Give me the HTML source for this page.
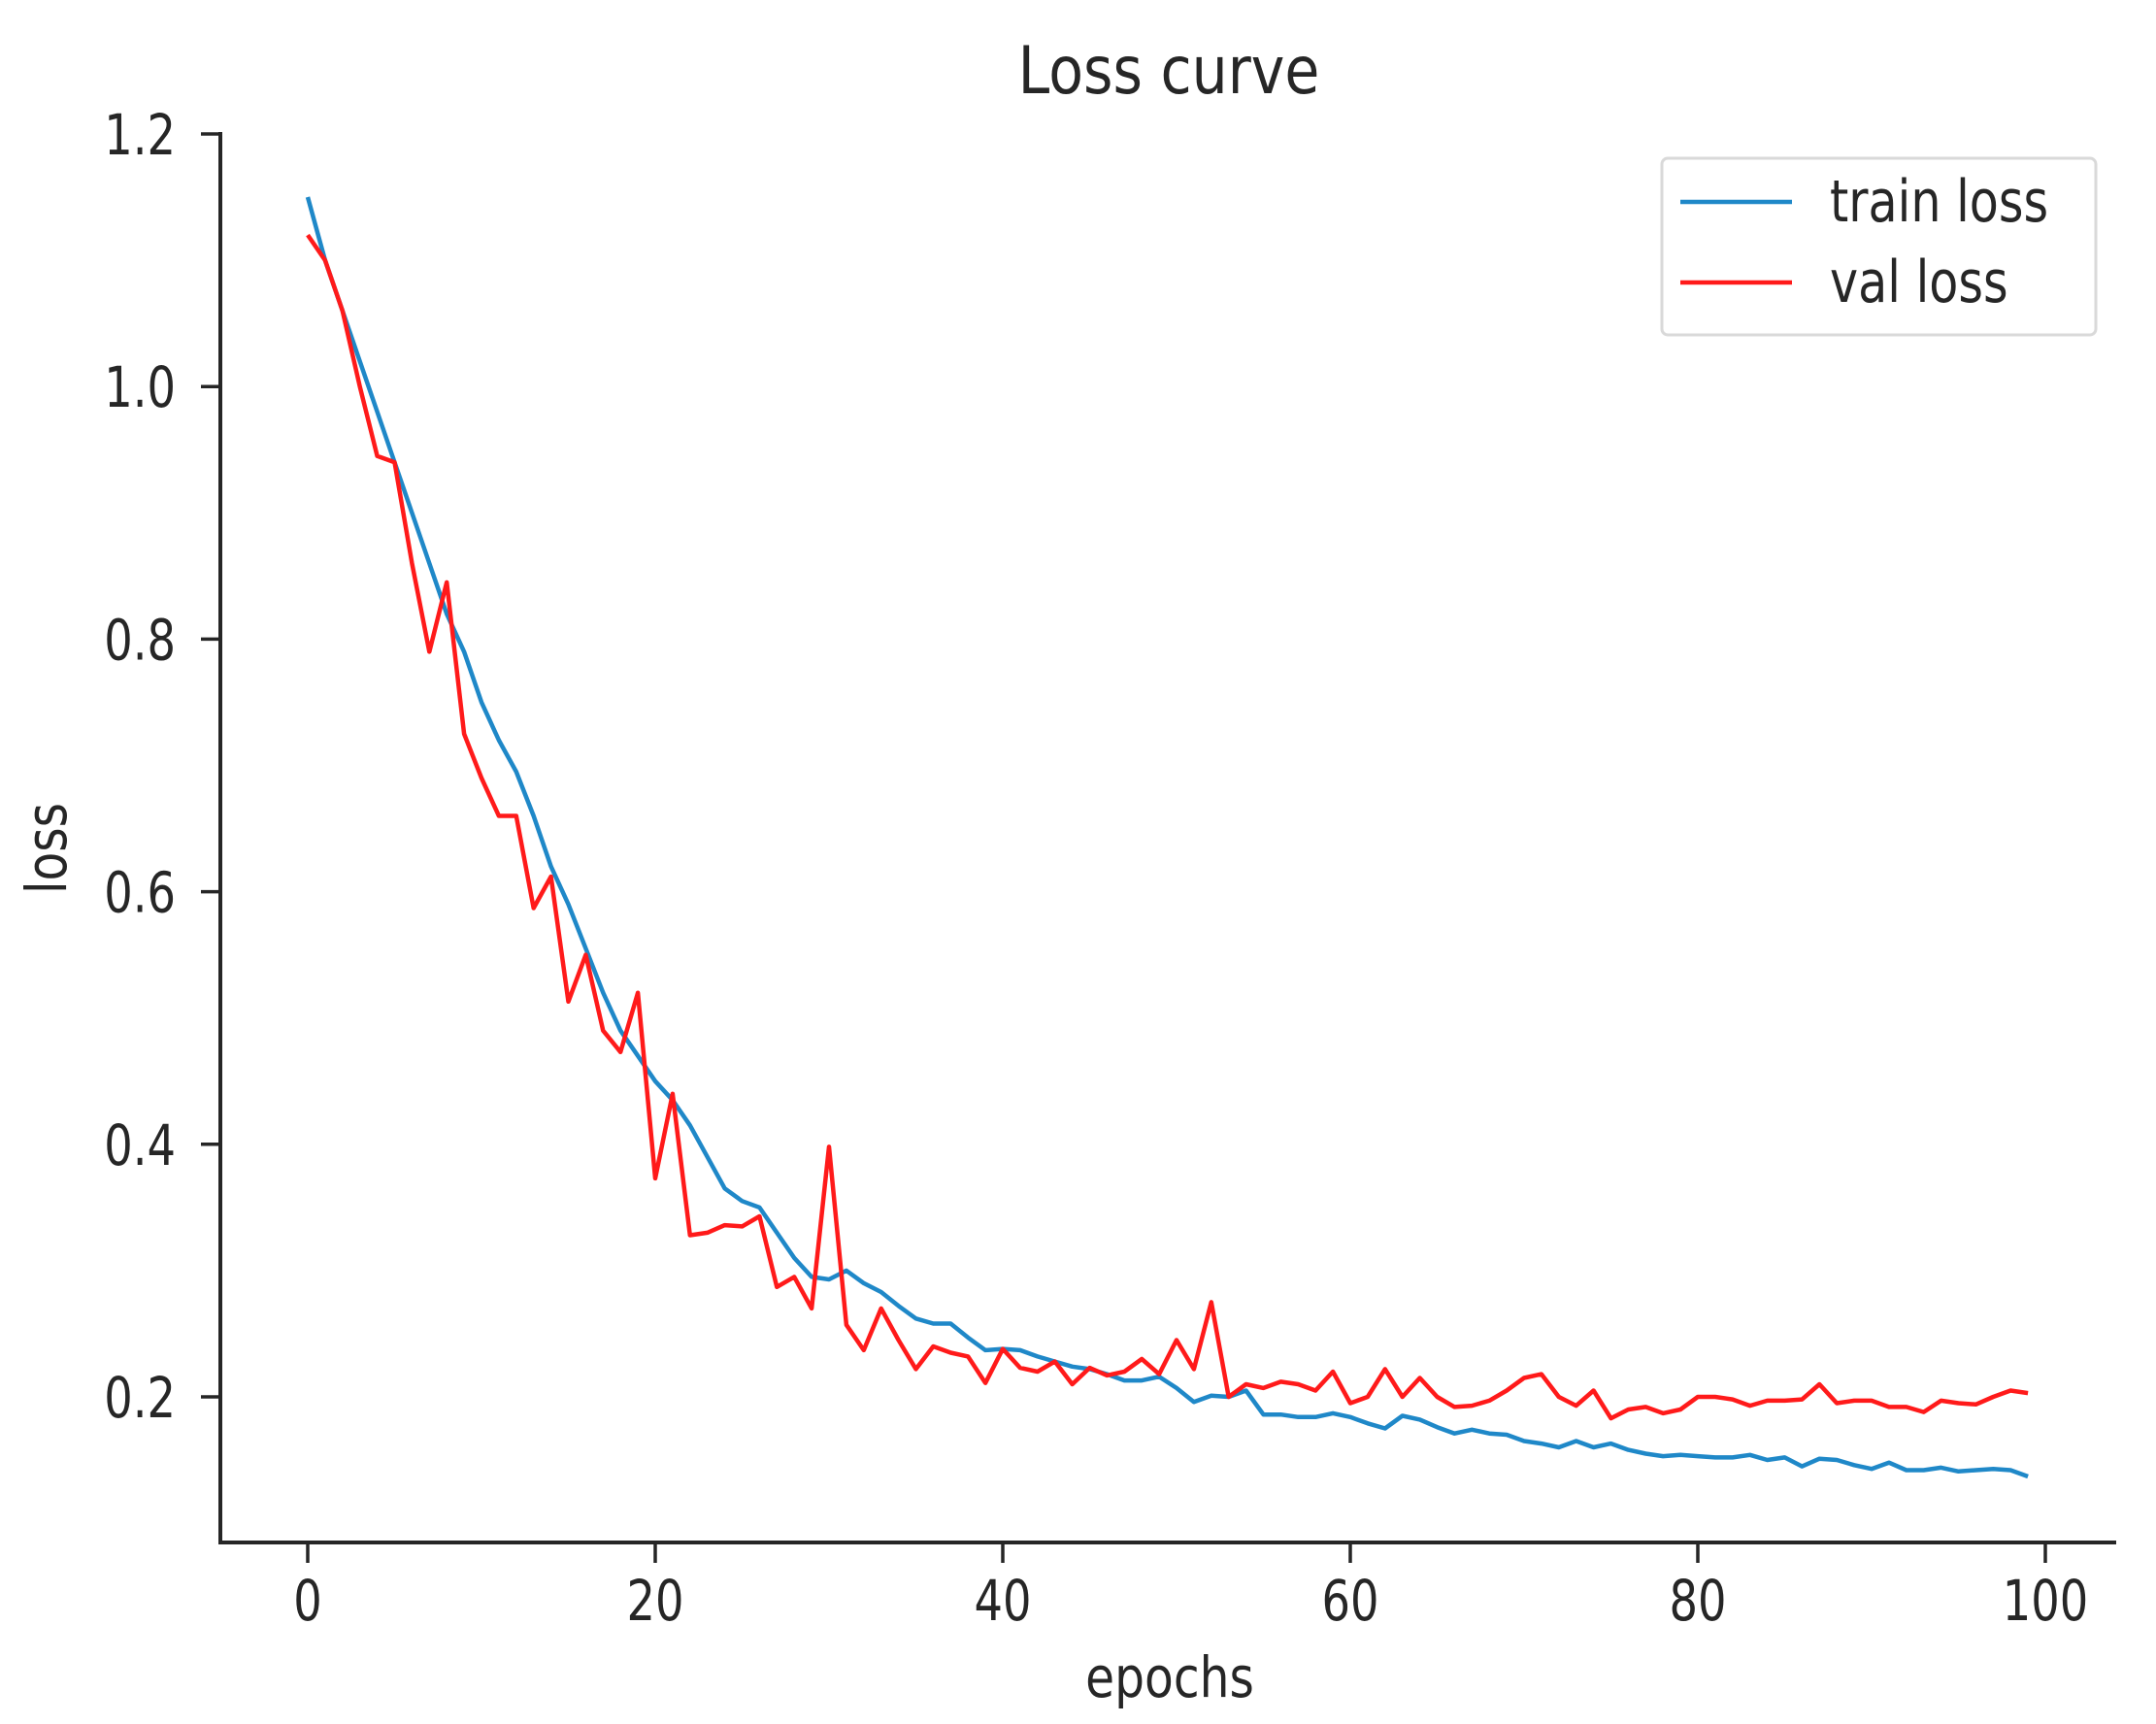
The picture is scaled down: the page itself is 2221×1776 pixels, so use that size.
<!DOCTYPE html>
<html><head><meta charset="utf-8"><style>
html,body{margin:0;padding:0;background:#fff}
svg{display:block}
text{font-family:"DejaVu Sans","Liberation Sans",sans-serif;fill:#262626}
</style></head><body>
<svg id="s" width="2221" height="1776" viewBox="0 0 2221 1776" xmlns="http://www.w3.org/2000/svg">
<rect width="2221" height="1776" fill="#fff"/>
<g id="ax" stroke="#262626" stroke-width="4" fill="none">
<line x1="227" y1="136" x2="227" y2="1591"/>
<line x1="225" y1="1589" x2="2180" y2="1589"/>
</g>
<g id="ticks" stroke="#262626" stroke-width="3.5"></g>
<g id="labels"></g>
<polyline id="tr" fill="none" stroke="#1f88c8" stroke-width="4.5" stroke-linejoin="round"/>
<polyline id="va" fill="none" stroke="#ff1a1a" stroke-width="4.5" stroke-linejoin="round"/>
<text x="1204" y="96" font-size="68" text-anchor="middle" transform="translate(1204 0) scale(0.86 1) translate(-1204 0)">Loss curve</text>
<text x="1205" y="1748" font-size="58" text-anchor="middle" transform="translate(1205 0) scale(0.84 1) translate(-1205 0)">epochs</text>
<text font-size="58" text-anchor="middle" transform="translate(68 874) rotate(-90) scale(0.84 1)">loss</text>
<rect x="1712" y="163" width="447" height="182" rx="6" fill="#fff" fill-opacity="0.8" stroke="#d9d9d9" stroke-width="3"/>
<line x1="1731" y1="208" x2="1846" y2="208" stroke="#1f88c8" stroke-width="4.5"/>
<line x1="1731" y1="291" x2="1846" y2="291" stroke="#ff1a1a" stroke-width="4.5"/>
<text x="1885" y="228" font-size="60" transform="translate(1885 0) scale(0.82 1) translate(-1885 0)">train loss</text>
<text x="1885" y="311" font-size="60" transform="translate(1885 0) scale(0.82 1) translate(-1885 0)">val loss</text>
</svg>
<script>
var tr=[1.15,1.10,1.06,1.02,0.98,0.94,0.90,0.86,0.82,0.79,0.75,0.72,0.695,0.66,0.62,0.59,0.555,0.52,0.49,0.47,0.45,0.435,0.415,0.39,0.365,0.355,0.35,0.33,0.31,0.295,0.293,0.30,0.29,0.283,0.272,0.262,0.258,0.258,0.247,0.237,0.238,0.237,0.232,0.228,0.224,0.222,0.218,0.213,0.213,0.216,0.207,0.196,0.201,0.20,0.205,0.186,0.186,0.184,0.184,0.187,0.184,0.179,0.175,0.185,0.182,0.176,0.171,0.174,0.171,0.170,0.165,0.163,0.160,0.165,0.160,0.163,0.158,0.155,0.153,0.154,0.153,0.152,0.152,0.154,0.150,0.152,0.145,0.151,0.150,0.146,0.143,0.148,0.142,0.142,0.144,0.141,0.142,0.143,0.142,0.137];
var va=[1.12,1.10,1.06,1.0,0.945,0.94,0.86,0.79,0.845,0.725,0.69,0.66,0.66,0.587,0.612,0.513,0.55,0.49,0.473,0.52,0.373,0.44,0.328,0.33,0.336,0.335,0.343,0.287,0.295,0.27,0.398,0.257,0.237,0.27,0.245,0.222,0.24,0.235,0.232,0.211,0.238,0.223,0.22,0.228,0.21,0.223,0.217,0.22,0.23,0.218,0.245,0.222,0.275,0.2,0.21,0.207,0.212,0.21,0.205,0.22,0.195,0.2,0.222,0.2,0.215,0.2,0.192,0.193,0.197,0.205,0.215,0.218,0.2,0.193,0.205,0.183,0.19,0.192,0.187,0.19,0.2,0.2,0.198,0.193,0.197,0.197,0.198,0.21,0.195,0.197,0.197,0.192,0.192,0.188,0.197,0.195,0.194,0.2,0.205,0.203];
function X(i){return 317+17.9*i}function Y(v){return 1439-(v-0.2)*1301}
function pts(a){return a.map(function(v,i){return X(i).toFixed(1)+','+Y(v).toFixed(1)}).join(' ')}
document.getElementById('tr').setAttribute('points',pts(tr));
document.getElementById('va').setAttribute('points',pts(va));
var NS='http://www.w3.org/2000/svg',tk=document.getElementById('ticks'),lb=document.getElementById('labels');
function el(n,a,t){var e=document.createElementNS(NS,n);for(var k in a)e.setAttribute(k,a[k]);if(t)e.textContent=t;return e}
for(var i=0;i<=5;i++){var v=0.2+0.2*i,y=Y(v);tk.appendChild(el('line',{x1:207,y1:y,x2:227,y2:y}));
lb.appendChild(el('text',{x:181,y:y+21,'font-size':58,'text-anchor':'end',transform:'translate(181 0) scale(0.8 1) translate(-181 0)'},v.toFixed(1)));}
for(var j=0;j<=5;j++){var x=X(20*j);tk.appendChild(el('line',{x1:x,y1:1589,x2:x,y2:1610}));
lb.appendChild(el('text',{x:x,y:1669,'font-size':58,'text-anchor':'middle',transform:'translate('+x+' 0) scale(0.8 1) translate('+(-x)+' 0)'},String(20*j)));}
</script>
</body></html>
